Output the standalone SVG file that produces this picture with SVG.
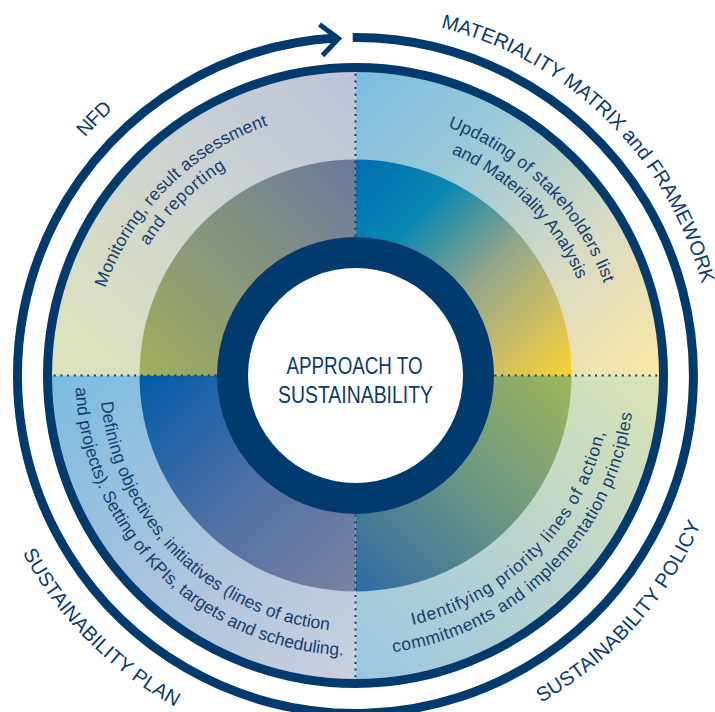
<svg xmlns="http://www.w3.org/2000/svg" width="715" height="712" viewBox="0 0 715 712">
<style>
  text{font-family:'Liberation Sans',Arial,sans-serif}
  .outer{font-size:20px;fill:#0b3b6d}
  .inner{font-size:17.5px;fill:#143e6e}
  .center{font-size:24px;fill:#0b3b6d}
  .dots{fill:none;stroke:#0e3a68;stroke-width:2;stroke-dasharray:2 4.7}
  .navy{fill:#013b6e}
  .navyline{fill:none;stroke:#013b6e}
</style>
<defs>
  <linearGradient id="gTLo" x1="1" y1="0" x2="0" y2="1"><stop offset="0" stop-color="#bcc3da"/><stop offset="0.5" stop-color="#cfd5cf"/><stop offset="1" stop-color="#dfe3b9"/></linearGradient>
  <linearGradient id="gTLm" x1="1" y1="0" x2="0" y2="1"><stop offset="0" stop-color="#6b789e"/><stop offset="1" stop-color="#a2af5d"/></linearGradient>
  <linearGradient id="gTRo" x1="0" y1="0" x2="1" y2="1"><stop offset="0" stop-color="#7cbce1"/><stop offset="0.3" stop-color="#98c8d8"/><stop offset="0.65" stop-color="#d7dac4"/><stop offset="1" stop-color="#fce8a3"/></linearGradient>
  <linearGradient id="gTRm" x1="0" y1="0" x2="1" y2="1"><stop offset="0" stop-color="#006db4"/><stop offset="0.28" stop-color="#0a88b0"/><stop offset="0.55" stop-color="#8fa48c"/><stop offset="0.8" stop-color="#cfbd62"/><stop offset="1" stop-color="#f9d330"/></linearGradient>
  <linearGradient id="gBRo" x1="0" y1="1" x2="1" y2="0"><stop offset="0" stop-color="#9bc6e1"/><stop offset="0.5" stop-color="#bbd4cf"/><stop offset="1" stop-color="#dbe3b3"/></linearGradient>
  <linearGradient id="gBRm" x1="0" y1="1" x2="1" y2="0"><stop offset="0" stop-color="#2f69a3"/><stop offset="0.5" stop-color="#6a9585"/><stop offset="1" stop-color="#9fb65a"/></linearGradient>
  <linearGradient id="gBLo" x1="0" y1="0" x2="1" y2="1"><stop offset="0" stop-color="#79bce2"/><stop offset="0.5" stop-color="#a9c3dc"/><stop offset="1" stop-color="#cbd0de"/></linearGradient>
  <linearGradient id="gBLm" x1="0" y1="0" x2="1" y2="1"><stop offset="0" stop-color="#005ca8"/><stop offset="0.5" stop-color="#4e6fa5"/><stop offset="1" stop-color="#7a82a1"/></linearGradient>
  <path id="pMAT" d="M -207.9 -291.5 A 358 358 0 0 1 295.0 202.8"/>
  <path id="pNFD" d="M -293.1 209.1 A 360 360 0 0 1 203.9 -296.7"/>
  <path id="pPOL" d="M -198.4 319.4 A 376 376 0 0 0 295.7 -232.3"/>
  <path id="pPLAN" d="M -308.0 -217.6 A 377 377 0 0 0 214.9 309.7"/>
  <path id="pTL1" d="M -217.1 152.0 A 265 265 0 0 1 152.0 -217.1"/>
  <path id="pTL2" d="M -199.9 140.0 A 244 244 0 0 1 140.0 -199.9"/>
  <path id="pTR1" d="M -152.0 -217.1 A 265 265 0 0 1 217.1 152.0"/>
  <path id="pTR2" d="M -138.8 -198.2 A 242 242 0 0 1 198.2 138.8"/>
  <path id="pBR1" d="M -146.8 209.7 A 256 256 0 0 0 209.7 -146.8"/>
  <path id="pBR2" d="M -160.0 228.6 A 279 279 0 0 0 228.6 -160.0"/>
  <path id="pBL1" d="M -209.7 -146.8 A 256 256 0 0 0 146.8 209.7"/>
  <path id="pBL2" d="M -229.4 -160.6 A 280 280 0 0 0 160.6 229.4"/>
</defs>
<rect width="715" height="712" fill="#ffffff"/>
<g transform="translate(355.5 375.5)">
  <g id="node-nfd">
    <path d="M0 0 L-308 0 A308 308 0 0 1 0 -308 Z" fill="url(#gTLo)"/>
    <path d="M0 0 L-216 0 A216 216 0 0 1 0 -216 Z" fill="url(#gTLm)"/>
    <text class="inner" text-anchor="middle"><textPath href="#pTL1" startOffset="50%" textLength="238" lengthAdjust="spacing">Monitoring, result assessment</textPath></text>
    <text class="inner" text-anchor="middle"><textPath href="#pTL2" startOffset="50%" textLength="111" lengthAdjust="spacing">and reporting</textPath></text>
    <text class="outer" text-anchor="middle"><textPath href="#pNFD" startOffset="50%" textLength="40" lengthAdjust="spacing">NFD</textPath></text>
  </g>
  <g id="node-materiality">
    <path d="M0 0 L0 -308 A308 308 0 0 1 308 0 Z" fill="url(#gTRo)"/>
    <path d="M0 0 L0 -216 A216 216 0 0 1 216 0 Z" fill="url(#gTRm)"/>
    <text class="inner" text-anchor="middle"><textPath href="#pTR1" startOffset="50%" textLength="228" lengthAdjust="spacing">Updating of stakeholders list</textPath></text>
    <text class="inner" text-anchor="middle"><textPath href="#pTR2" startOffset="50%" textLength="183" lengthAdjust="spacing">and Materiality Analysis</textPath></text>
    <text class="outer" text-anchor="middle"><textPath href="#pMAT" startOffset="50%" textLength="384" lengthAdjust="spacing">MATERIALITY MATRIX and FRAMEWORK</textPath></text>
  </g>
  <g id="node-policy">
    <path d="M0 0 L308 0 A308 308 0 0 1 0 308 Z" fill="url(#gBRo)"/>
    <path d="M0 0 L216 0 A216 216 0 0 1 0 216 Z" fill="url(#gBRm)"/>
    <text class="inner" text-anchor="middle"><textPath href="#pBR1" startOffset="50%" textLength="287" lengthAdjust="spacing">Identifying priority lines of action,</textPath></text>
    <text class="inner" text-anchor="middle"><textPath href="#pBR2" startOffset="50%" textLength="363" lengthAdjust="spacing">commitments and implementation principles</textPath></text>
    <text class="outer" text-anchor="middle"><textPath href="#pPOL" startOffset="50%" textLength="244" lengthAdjust="spacing">SUSTAINABILITY POLICY</textPath></text>
  </g>
  <g id="node-plan">
    <path d="M0 0 L0 308 A308 308 0 0 1 -308 0 Z" fill="url(#gBLo)"/>
    <path d="M0 0 L0 216 A216 216 0 0 1 -216 0 Z" fill="url(#gBLm)"/>
    <text class="inner" text-anchor="middle"><textPath href="#pBL1" startOffset="50%" textLength="349" lengthAdjust="spacing">Defining objectives, initiatives (lines of action</textPath></text>
    <text class="inner" text-anchor="middle"><textPath href="#pBL2" startOffset="50%" textLength="416" lengthAdjust="spacing">and projects). Setting of KPIs, targets and scheduling.</textPath></text>
    <text class="outer" text-anchor="middle"><textPath href="#pPLAN" startOffset="50%" textLength="220" lengthAdjust="spacing">SUSTAINABILITY PLAN</textPath></text>
  </g>
  <g id="separators">
    <circle r="308" class="navyline" stroke-width="9"/>
    <path class="dots" d="M0 -139 V -303 M0 139 V 303 M-139 0 H -303 M139 0 H 303"/>
  </g>
  <g id="node-center">
    <circle r="138.5" class="navy"/>
    <circle r="107.5" fill="#ffffff"/>
    <text class="center" x="-1" y="-1.5" text-anchor="middle" textLength="136" lengthAdjust="spacingAndGlyphs">APPROACH TO</text>
    <text class="center" x="0" y="27.8" text-anchor="middle" textLength="155" lengthAdjust="spacingAndGlyphs">SUSTAINABILITY</text>
  </g>
  <g id="connectors">
    <path class="navyline" stroke-width="9" d="M -2.8 -337.99 A 338 338 0 1 1 -19 -337.47"/>
    <polyline class="navyline" stroke-width="5" stroke-linejoin="miter" points="-36,-351 -17,-337 -33,-320"/>
  </g>
</g>
</svg>
